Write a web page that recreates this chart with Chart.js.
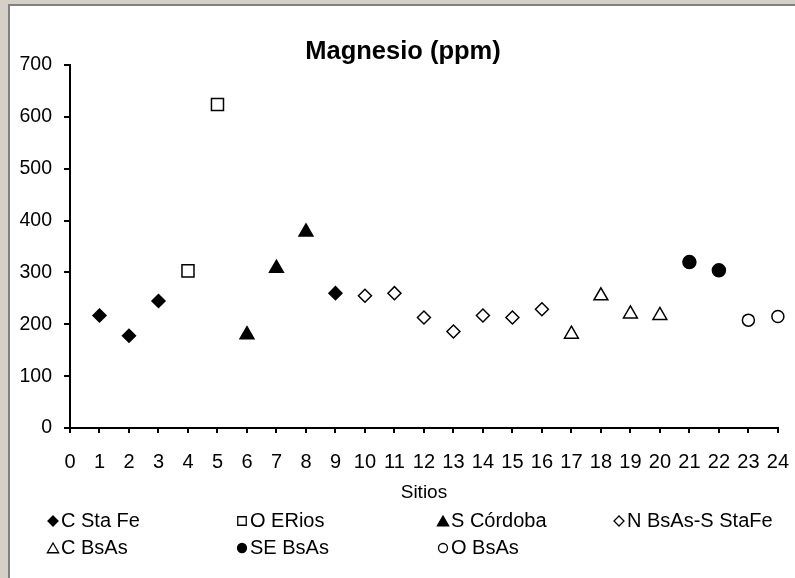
<!DOCTYPE html>
<html><head><meta charset="utf-8">
<script src="https://cdn.jsdelivr.net/npm/chart.js@4/dist/chart.umd.min.js"></script>
<style>
html,body{margin:0;padding:0;width:795px;height:578px;overflow:hidden;background:#d4d0c8;}
#frame{position:absolute;left:8px;top:4px;width:787px;height:574px;background:#fff;border-left:2px solid #808080;border-top:2px solid #808080;box-sizing:border-box;}
#wrap{position:absolute;left:0;top:0;width:795px;height:578px;}
</style></head><body>
<div id="frame"></div>
<div id="wrap"><canvas id="c" width="795" height="578"></canvas></div>
<script>
// ---- data ----
const chartTitle = 'Magnesio (ppm)';
const xTitle = 'Sitios';
const xTickLabels = [0,1,2,3,4,5,6,7,8,9,10,11,12,13,14,15,16,17,18,19,20,21,22,23,24];
const yTickLabels = [0,100,200,300,400,500,600,700];
const seriesNames = ['C Sta Fe','O ERios','S Córdoba','N BsAs-S StaFe','C BsAs','SE BsAs','O BsAs'];
const cStaFeX = [1,2,3,9];            const cStaFeY = [217,178,245,260];
const oERiosX = [4,5];                const oERiosY = [303,624];
const sCordobaX = [6,7,8];            const sCordobaY = [180,308,378];
const nBsAsX = [10,11,12,13,14,15,16];const nBsAsY = [255,260,213,186,217,213,229];
const cBsAsX = [17,18,19,20];         const cBsAsY = [181,255,220,217];
const seBsAsX = [21,22];              const seBsAsY = [320,304];
const oBsAsX = [23,24];               const oBsAsY = [208,215];

// ---- styles ----
const FONT = "'Liberation Sans', Arial, sans-serif";
const seriesX = [cStaFeX,oERiosX,sCordobaX,nBsAsX,cBsAsX,seBsAsX,oBsAsX];
const seriesY = [cStaFeY,oERiosY,sCordobaY,nBsAsY,cBsAsY,seBsAsY,oBsAsY];
const markers = [
  {style:'rectRot', r:6.5, fill:'#000', lr:5},
  {style:'rect', r:8.5, fill:'#fff', lr:6},
  {style:'triangle', r:8, fill:'#000', lr:6.5},
  {style:'rectRot', r:6.5, fill:'#fff', lr:5},
  {style:'triangle', r:8, fill:'#fff', lr:6.5},
  {style:'circle', r:6.5, fill:'#000', lr:4.5},
  {style:'circle', r:6, fill:'#fff', lr:4.5}
];
const datasets = seriesNames.map((n,i)=>({
  label:n,
  data: seriesX[i].map((x,j)=>({x:x,y:seriesY[i][j]})),
  pointStyle: markers[i].style,
  pointRadius: markers[i].r,
  pointHoverRadius: markers[i].r,
  pointBackgroundColor: markers[i].fill,
  pointBorderColor:'#000',
  pointBorderWidth:1.5,
  showLine:false,
  clip:false
}));

function drawMarker(ctx, m, x, y, r){
  ctx.save();
  ctx.fillStyle = m.fill; ctx.strokeStyle = '#000'; ctx.lineWidth = 1.3;
  ctx.beginPath();
  if (m.style==='rectRot'){ ctx.moveTo(x,y-r); ctx.lineTo(x+r,y); ctx.lineTo(x,y+r); ctx.lineTo(x-r,y); ctx.closePath(); }
  else if (m.style==='rect'){ const s=r*Math.SQRT1_2; ctx.rect(x-s,y-s,2*s,2*s); }
  else if (m.style==='triangle'){ ctx.moveTo(x,y-r); ctx.lineTo(x+r*0.866,y+r*0.5); ctx.lineTo(x-r*0.866,y+r*0.5); ctx.closePath(); }
  else { ctx.arc(x,y,r,0,Math.PI*2); }
  ctx.fill(); ctx.stroke();
  ctx.restore();
}

const titlePlugin = {
  id:'xlTitle',
  afterDraw(chart){
    const ctx = chart.ctx;
    ctx.save();
    ctx.font = 'bold 25.5px ' + FONT;
    ctx.fillStyle = '#000';
    ctx.textAlign = 'center';
    ctx.textBaseline = 'middle';
    ctx.fillText(chartTitle, 403, 52);
    ctx.restore();
  }
};

const legendPlugin = {
  id:'xlLegend',
  afterDraw(chart){
    const ctx = chart.ctx;
    const colX = [53, 242, 443, 619];
    const rowY = [521, 548];
    ctx.save();
    ctx.font = '20px ' + FONT;
    ctx.textBaseline = 'middle';
    ctx.textAlign = 'left';
    seriesNames.forEach((n,i)=>{
      const cx = colX[i%4], cy = rowY[Math.floor(i/4)];
      const m = markers[i];
      drawMarker(ctx, m, cx, cy + (m.style==='triangle'?1.5:0), m.lr);
      ctx.fillStyle = '#000';
      ctx.fillText(n, cx + 8, cy);
    });
    ctx.restore();
  }
};

new Chart(document.getElementById('c'), {
  type:'scatter',
  data:{datasets},
  plugins:[titlePlugin, legendPlugin],
  options:{
    responsive:false,
    animation:false,
    events:[],
    layout:{padding:{left:0, right:17, top:65, bottom:73.6}},
    plugins:{
      legend:{display:false},
      tooltip:{enabled:false},
      title:{display:false}
    },
    scales:{
      x:{type:'linear', min:0, max:24,
        afterFit(s){ s.height = 76.4; },
        afterBuildTicks(s){ s.ticks = xTickLabels.map(v=>({value:v})); },
        border:{display:true, color:'#000', width:2},
        grid:{drawOnChartArea:false, drawTicks:true, tickLength:5, color:'#000', lineWidth:2},
        ticks:{color:'#000', font:{family:FONT, size:20, lineHeight:2.3}, padding:6, maxRotation:0, minRotation:0, autoSkip:false},
        title:{display:true, text:xTitle, color:'#000', font:{family:FONT, size:19}, padding:{top:0,bottom:0}}
      },
      y:{type:'linear', min:0, max:700,
        afterFit(s){ s.width = 70; },
        afterBuildTicks(s){ s.ticks = yTickLabels.map(v=>({value:v})); },
        border:{display:true, color:'#000', width:2},
        grid:{drawOnChartArea:false, drawTicks:true, tickLength:6, color:'#000', lineWidth:2},
        ticks:{color:'#000', font:{family:FONT, size:19.5}, padding:12}
      }
    }
  }
});
</script>
</body></html>
